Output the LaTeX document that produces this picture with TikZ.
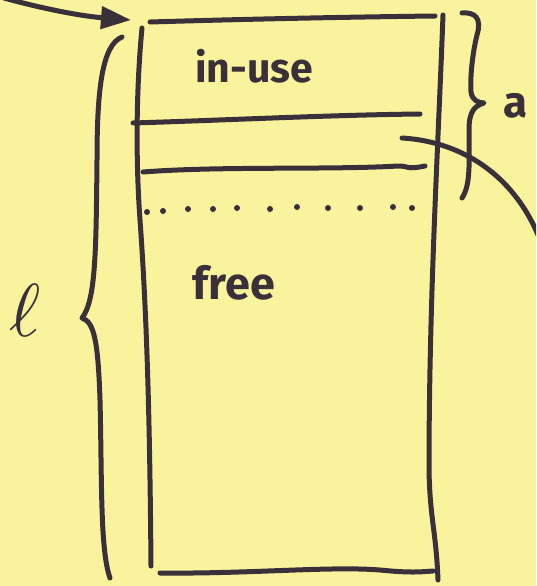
\documentclass[tikz,border=0pt]{standalone}
\usepackage{fontspec}
\newfontfamily\handfont{Fira Sans}
\usetikzlibrary{arrows.meta}
\definecolor{paper}{RGB}{250,243,158}
\definecolor{ink}{RGB}{58,48,58}
\tikzset{
  pen/.style={draw=ink, line width=5pt, line cap=round, line join=round},
  lbl/.style={text=ink, inner sep=0pt, font=\handfont\bfseries},
  dotmark/.style={fill=ink, draw=none}
}
\begin{document}
\begin{tikzpicture}[x=1pt,y=-1pt]
\fill[paper] (0,0) rectangle (536,586);
\useasboundingbox (0,0) rectangle (536,586);
\clip (0,0) rectangle (536,586);
% box outline points
\coordinate (topL) at (150,22);
\coordinate (topR) at (435,16);
\coordinate (leftT) at (142,28);
\coordinate (leftB) at (151,566);
\coordinate (rightT) at (443,15);
\coordinate (rightB) at (438,580);
\coordinate (botL) at (160,573);
\coordinate (botR) at (433,571);
% box
\draw[pen] (topL) .. controls (250,19) and (350,17) .. (topR);
\draw[pen] (leftT) .. controls (137,80) and (135,150) .. (140,220) .. controls (148,330) and (150,450) .. (leftB);
\draw[pen] (rightT) .. controls (438,150) and (429,300) .. (429,470) .. controls (430,520) and (436,530) .. (rightB);
\draw[pen] (botL) .. controls (250,574) and (330,566) .. (380,570) .. controls (410,573) and (420,572) .. (botR);
% separator lines
\coordinate (s1a) at (133,123);
\coordinate (s1b) at (420,114);
\coordinate (s2a) at (143,172);
\coordinate (s2b) at (425,166);
\draw[pen] (s1a) .. controls (230,120) and (330,115) .. (s1b);
\draw[pen] (s2a) .. controls (220,166) and (330,170) .. (398,166) .. controls (410,166) and (405,170) .. (s2b);
% dotted line
\foreach \x/\y in {147/212,163/211,188/209,213/209,237/208,270/209,297/207,328/208,360/208,393/207,412/208}
  \fill[dotmark] (\x,\y) circle (3pt);
% curve leaving to the right
\coordinate (cS) at (402,138);
\coordinate (cE) at (548,265);
\draw[pen] (cS) .. controls (470,142) and (528,185) .. (cE);
% arrow into top-left corner
\coordinate (aS) at (4,-2);
\coordinate (aT) at (131,20);
\draw[pen, -{Triangle[length=30pt,width=22pt]}] (aS) .. controls (40,8) and (80,16) .. (aT);
% left brace (l)
\coordinate (lbT) at (122,37);
\coordinate (lbM) at (82,318);
\coordinate (lbB) at (110,578);
\draw[pen] (lbT) .. controls (102,45) and (97,90) .. (97,160) .. controls (96,250) and (96,300) .. (lbM)
  .. controls (94,322) and (98,340) .. (100,400) .. controls (102,480) and (100,550) .. (lbB);
% right brace (a)
\coordinate (rbT) at (462,13);
\coordinate (rbM) at (484,103);
\coordinate (rbB) at (462,198);
\draw[pen] (rbT) .. controls (475,12) and (482,18) .. (477,35) .. controls (472,55) and (470,80) .. (471,92)
  .. controls (472,100) and (478,103) .. (rbM)
  .. controls (474,106) and (469,112) .. (469,130) .. controls (469,160) and (471,185) .. (rbB);
% labels
\node[lbl] (inuse) at (254,66) {\fontsize{41}{48}\selectfont in-use};
\node[lbl] (free) at (234,283) {\fontsize{45}{52}\selectfont free};
\node[lbl] (alab) at (516,106) {\fontsize{44}{52}\selectfont a};
\node[lbl] (llab) at (25,310) {\scalebox{7.5}{$\ell$}};
\end{tikzpicture}
\end{document}
